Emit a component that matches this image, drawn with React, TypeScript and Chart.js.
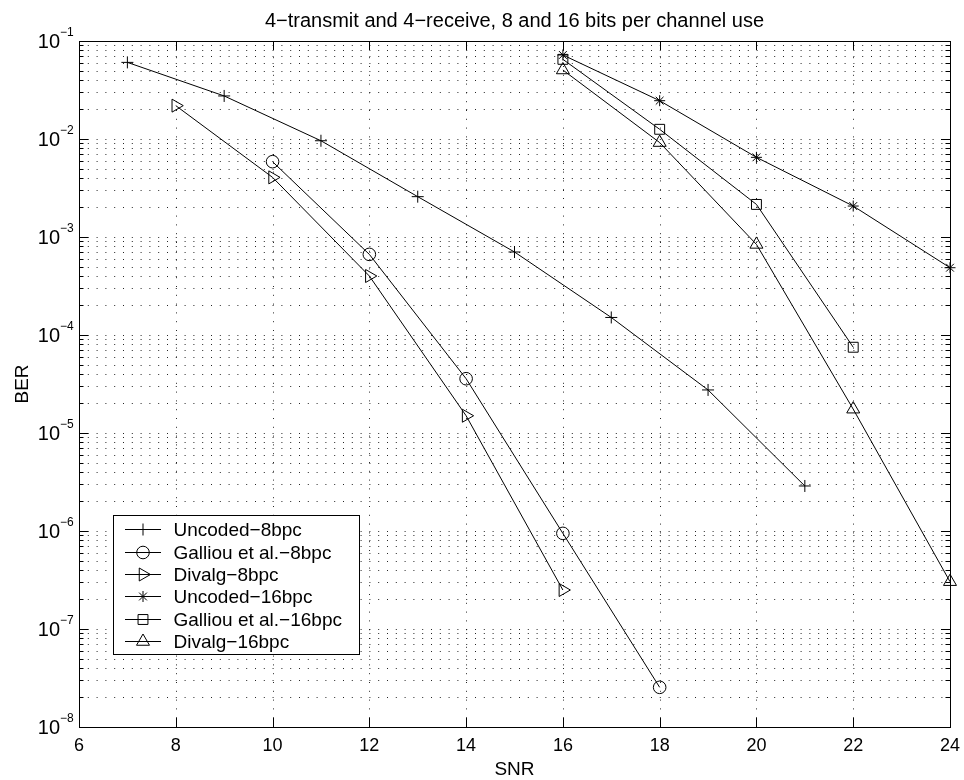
import React, { useEffect, useRef } from 'react';
import { Chart, registerables } from 'chart.js';
import { drawPoint } from 'chart.js/helpers';

Chart.register(...registerables);

const TITLE = '4−transmit and 4−receive, 8 and 16 bits per channel use';
const X_LABEL = 'SNR';
const Y_LABEL = 'BER';

const xTicks = [6, 8, 10, 12, 14, 16, 18, 20, 22, 24];
const yExponents = [-8, -7, -6, -5, -4, -3, -2, -1];
const yMinorMantissas = [2, 3, 4, 5, 6, 7, 8, 9];

const uncoded8X = [7, 9, 11, 13, 15, 17, 19, 21];
const uncoded8Y = [0.0605, 0.0275, 0.0096, 0.00258, 0.000703, 0.000151, 0.0000275, 0.00000288];

const galliou8X = [10, 12, 14, 16, 18];
const galliou8Y = [0.00587, 0.000665, 0.0000358, 0.000000946, 0.0000000254];

const divalg8X = [8, 10, 12, 14, 16];
const divalg8Y = [0.0219, 0.00406, 0.0004, 0.000015, 0.00000025];

const uncoded16X = [16, 18, 20, 22, 24];
const uncoded16Y = [0.072, 0.0246, 0.0065, 0.00207, 0.000486];

const galliou16X = [16, 18, 20, 22];
const galliou16Y = [0.065, 0.01256, 0.00215, 0.000075];

const divalg16X = [16, 18, 20, 22, 24];
const divalg16Y = [0.0506, 0.0092, 0.00084, 0.0000175, 0.000000304];

const FONT = '"Liberation Sans", Arial, Helvetica, sans-serif';

const pts = (xs: number[], ys: number[]) => xs.map((x, i) => ({ x, y: ys[i] }));

function makeDataset(label: string, xs: number[], ys: number[], pointStyle: string, radius: number, rotation = 0) {
  return {
    label,
    data: pts(xs, ys),
    borderColor: '#000',
    borderWidth: 1,
    pointStyle,
    pointRadius: radius,
    pointRotation: rotation,
    pointBorderColor: '#000',
    pointBackgroundColor: 'rgba(0,0,0,0)',
    pointBorderWidth: 1,
    pointHoverRadius: radius,
    fill: false,
    tension: 0,
    clip: false as any,
  };
}

const matlabPlugin = {
  id: 'matlabLook',
  beforeDatasetsDraw(chart: any) {
    const { ctx, chartArea: a, scales } = chart;
    const xs = scales.x;
    const ys = scales.y;
    ctx.save();
    ctx.lineWidth = 1;
    ctx.strokeStyle = 'rgba(0,0,0,0.85)';
    ctx.setLineDash([1, 7.8]);
    // vertical grid
    for (const t of xTicks) {
      if (t === xTicks[0] || t === xTicks[xTicks.length - 1]) continue;
      const px = Math.round(xs.getPixelForValue(t)) + 0.5;
      ctx.beginPath();
      ctx.moveTo(px, a.bottom);
      ctx.lineTo(px, a.top);
      ctx.stroke();
    }
    // horizontal grid
    const vals: number[] = [];
    for (const e of yExponents) {
      vals.push(Math.pow(10, e));
      if (e < yExponents[yExponents.length - 1]) {
        for (const m of yMinorMantissas) vals.push(m * Math.pow(10, e));
      }
    }
    for (const v of vals) {
      if (v <= Math.pow(10, yExponents[0]) * 1.0001 || v >= Math.pow(10, yExponents[yExponents.length - 1]) * 0.9999) continue;
      const py = Math.round(ys.getPixelForValue(v)) + 0.5;
      ctx.beginPath();
      ctx.moveTo(a.left, py);
      ctx.lineTo(a.right, py);
      ctx.stroke();
    }
    ctx.restore();
  },
  afterDatasetsDraw(chart: any) {
    const { ctx, chartArea: a, scales } = chart;
    const xs = scales.x;
    const ys = scales.y;
    ctx.save();
    ctx.setLineDash([]);
    ctx.strokeStyle = '#000';
    ctx.lineWidth = 1;
    // box
    ctx.strokeRect(a.left + 0.5, a.top + 0.5, a.right - a.left, a.bottom - a.top);
    // x ticks
    ctx.beginPath();
    for (const t of xTicks) {
      const px = Math.round(xs.getPixelForValue(t)) + 0.5;
      ctx.moveTo(px, a.bottom);
      ctx.lineTo(px, a.bottom - 9);
      ctx.moveTo(px, a.top);
      ctx.lineTo(px, a.top + 9);
    }
    // y ticks
    for (const e of yExponents) {
      const py = Math.round(ys.getPixelForValue(Math.pow(10, e))) + 0.5;
      ctx.moveTo(a.left, py);
      ctx.lineTo(a.left + 9, py);
      ctx.moveTo(a.right, py);
      ctx.lineTo(a.right - 9, py);
      if (e < yExponents[yExponents.length - 1]) {
        for (const m of yMinorMantissas) {
          const pm = Math.round(ys.getPixelForValue(m * Math.pow(10, e))) + 0.5;
          ctx.moveTo(a.left, pm);
          ctx.lineTo(a.left + 4.5, pm);
          ctx.moveTo(a.right, pm);
          ctx.lineTo(a.right - 4.5, pm);
        }
      }
    }
    ctx.stroke();

    ctx.fillStyle = '#000';
    // x tick labels
    ctx.font = `18px ${FONT}`;
    ctx.textAlign = 'center';
    ctx.textBaseline = 'alphabetic';
    for (const t of xTicks) {
      ctx.fillText(String(t), xs.getPixelForValue(t), a.bottom + 24);
    }
    // y tick labels 10^e
    for (const e of yExponents) {
      const py = ys.getPixelForValue(Math.pow(10, e));
      ctx.font = `20px ${FONT}`;
      ctx.textAlign = 'right';
      ctx.fillText('10', a.left - 19, py + 7.2);
      ctx.font = `12px ${FONT}`;
      ctx.textAlign = 'left';
      ctx.fillText('−' + Math.abs(e), a.left - 19, py - 4.8);
    }
    // axis labels
    ctx.font = `19px ${FONT}`;
    ctx.textAlign = 'center';
    ctx.fillText(X_LABEL, (a.left + a.right) / 2, 775);
    ctx.save();
    ctx.translate(28, (a.top + a.bottom) / 2);
    ctx.rotate(-Math.PI / 2);
    ctx.fillText(Y_LABEL, 0, 0);
    ctx.restore();
    // title
    ctx.font = `20px ${FONT}`;
    ctx.fillText(TITLE, (a.left + a.right) / 2, 27);

    // legend
    const lx0 = 113.5, ly0 = 515.5, lw = 246, lh = 139;
    ctx.fillStyle = '#fff';
    ctx.fillRect(lx0, ly0, lw, lh);
    ctx.strokeStyle = '#000';
    ctx.strokeRect(lx0, ly0, lw, lh);
    ctx.font = `19px ${FONT}`;
    ctx.textAlign = 'left';
    ctx.textBaseline = 'middle';
    chart.data.datasets.forEach((ds: any, i: number) => {
      const ry = Math.round(529.3 + i * 22.35) + 0.5;
      ctx.strokeStyle = '#000';
      ctx.lineWidth = 1;
      ctx.beginPath();
      ctx.moveTo(125, ry);
      ctx.lineTo(161, ry);
      ctx.stroke();
      ctx.fillStyle = 'rgba(0,0,0,0)';
      drawPoint(ctx, { pointStyle: ds.pointStyle, radius: ds.pointRadius, rotation: ds.pointRotation, borderWidth: 1 } as any, 143, ry);
      ctx.fillStyle = '#000';
      ctx.fillText(ds.label, 173.5, ry + 1);
    });
    ctx.restore();
  },
};

export default function App() {
  const canvasRef = useRef<HTMLCanvasElement | null>(null);

  useEffect(() => {
    const canvas = canvasRef.current;
    if (!canvas) return;
    const chart = new Chart(canvas, {
      type: 'line',
      data: {
        datasets: [
          makeDataset('Uncoded−8bpc', uncoded8X, uncoded8Y, 'cross', 6),
          makeDataset('Galliou et al.−8bpc', galliou8X, galliou8Y, 'circle', 6.3),
          makeDataset('Divalg−8bpc', divalg8X, divalg8Y, 'triangle', 7.5, 90),
          makeDataset('Uncoded−16bpc', uncoded16X, uncoded16Y, 'star', 5.5),
          makeDataset('Galliou et al.−16bpc', galliou16X, galliou16Y, 'rect', 7),
          makeDataset('Divalg−16bpc', divalg16X, divalg16Y, 'triangle', 7.5),
        ] as any,
      },
      options: {
        responsive: false,
        animation: false,
        events: [],
        layout: { padding: { left: 79, right: 14, top: 41, bottom: 53 } },
        scales: {
          x: { type: 'linear', min: 6, max: 24, display: false },
          y: { type: 'logarithmic', min: 1e-8, max: 1e-1, display: false },
        },
        plugins: {
          legend: { display: false },
          title: { display: false },
          tooltip: { enabled: false },
        },
      },
      plugins: [matlabPlugin],
    });
    return () => chart.destroy();
  }, []);

  return (
    <div style={{ position: 'fixed', left: 0, top: 0, width: 964, height: 780, background: '#fff' }}>
      <canvas ref={canvasRef} width={964} height={780} style={{ display: 'block' }} />
    </div>
  );
}
